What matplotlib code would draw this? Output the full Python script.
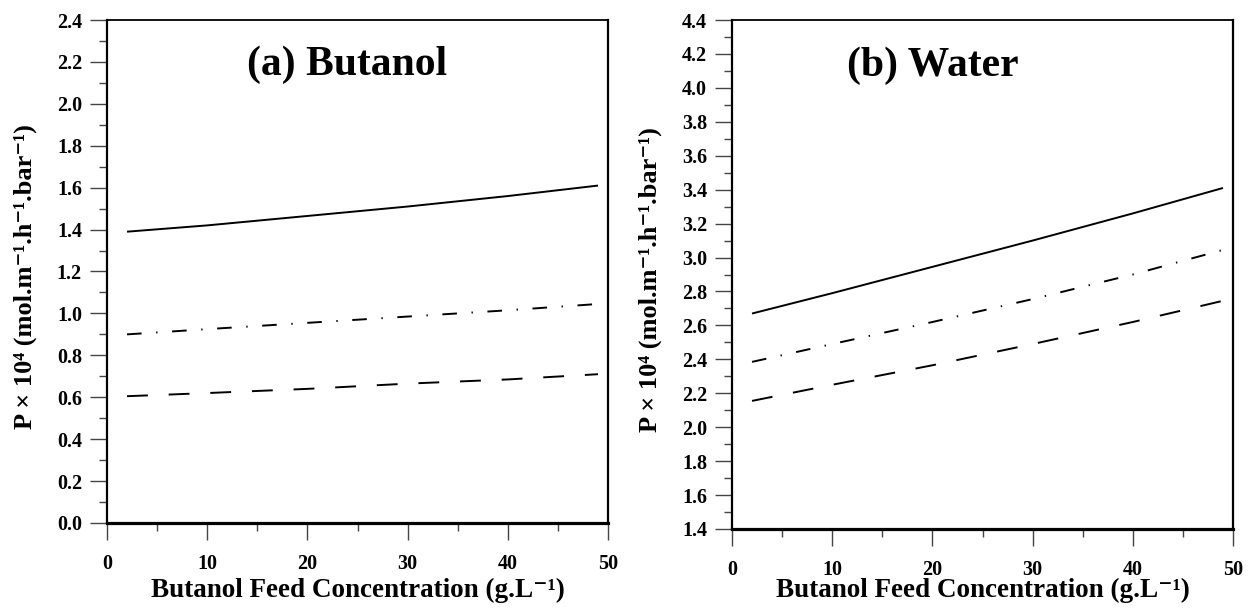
import matplotlib
matplotlib.use("Agg")
import matplotlib.pyplot as plt
from matplotlib.ticker import MultipleLocator, FuncFormatter

plt.rcParams['font.family'] = ['Liberation Serif', 'DejaVu Serif']
plt.rcParams['font.weight'] = 'bold'
plt.rcParams['lines.scale_dashes'] = False

conc = [2, 10, 20, 30, 40, 49]

# Butanol permeance
but_solid = [1.39, 1.42, 1.465, 1.51, 1.56, 1.61]
but_dashdot = [0.90, 0.925, 0.955, 0.985, 1.015, 1.045]
but_dashed = [0.605, 0.62, 0.64, 0.665, 0.685, 0.71]

# Water permeance
wat_solid = [2.67, 2.79, 2.945, 3.10, 3.26, 3.41]
wat_dashdot = [2.385, 2.49, 2.62, 2.755, 2.90, 3.045]
wat_dashed = [2.155, 2.25, 2.365, 2.49, 2.62, 2.745]

xticks = [0, 10, 20, 30, 40, 50]
ylabel = 'P × 10⁴ (mol.m⁻¹.h⁻¹.bar⁻¹)'
xlabel = 'Butanol Feed Concentration (g.L⁻¹)'

fig = plt.figure(figsize=(12.48, 6.11), dpi=100)
W, H = 1248, 611
ax1 = fig.add_axes([107 / W, 1 - 523 / H, 501 / W, 503 / H])
ax2 = fig.add_axes([732 / W, 1 - 529 / H, 501 / W, 509 / H])

panels = [
    (ax1, but_solid, but_dashdot, but_dashed, (0.0, 2.4), '(a) Butanol', 0.48, -0.109),
    (ax2, wat_solid, wat_dashdot, wat_dashed, (1.4, 4.4), '(b) Water', 0.40, -0.096),
]

for ax, s, dd, d, ylim, title, tx, xly in panels:
    ax.plot(conc, s, color='black', lw=1.4, solid_capstyle='butt')
    ax.plot(conc, dd, color='black', lw=1.4, dashes=(10.5, 10.5, 1, 10.5))
    ax.plot(conc, d, color='black', lw=1.4, dashes=(15, 15))
    ax.set_xlim(0, 50)
    ax.set_ylim(*ylim)
    ax.set_xticks(xticks)
    ax.xaxis.set_minor_locator(MultipleLocator(5))
    ax.yaxis.set_major_locator(MultipleLocator(0.2))
    ax.yaxis.set_minor_locator(MultipleLocator(0.1))
    ax.yaxis.set_major_formatter(FuncFormatter(lambda v, p: f'{v:.1f}'))
    ax.tick_params(which='major', direction='out', length=12, width=1.0,
                   labelsize=14.5, color='#444444')
    ax.tick_params(which='minor', direction='out', length=6, width=1.0,
                   color='#444444')
    ax.tick_params(axis='y', which='major', pad=6)
    ax.tick_params(axis='x', which='major', pad=10)
    for lbl in ax.get_xticklabels() + ax.get_yticklabels():
        lbl.set_fontweight('bold')
    ax.spines['top'].set_linewidth(1.3)
    ax.spines['left'].set_linewidth(1.6)
    ax.spines['right'].set_linewidth(1.6)
    ax.spines['bottom'].set_linewidth(2.3)
    ax.set_xlabel(xlabel, fontsize=19.5, fontweight='bold')
    ax.set_ylabel(ylabel, fontsize=19, fontweight='bold')
    ax.xaxis.set_label_coords(0.5, xly)
    ax.yaxis.set_label_coords(-0.14, 0.49)
    ax.text(tx, 0.89, title, transform=ax.transAxes, ha='center', va='baseline',
            fontsize=30, fontweight='bold')

fig.savefig('out.png', dpi=100)
